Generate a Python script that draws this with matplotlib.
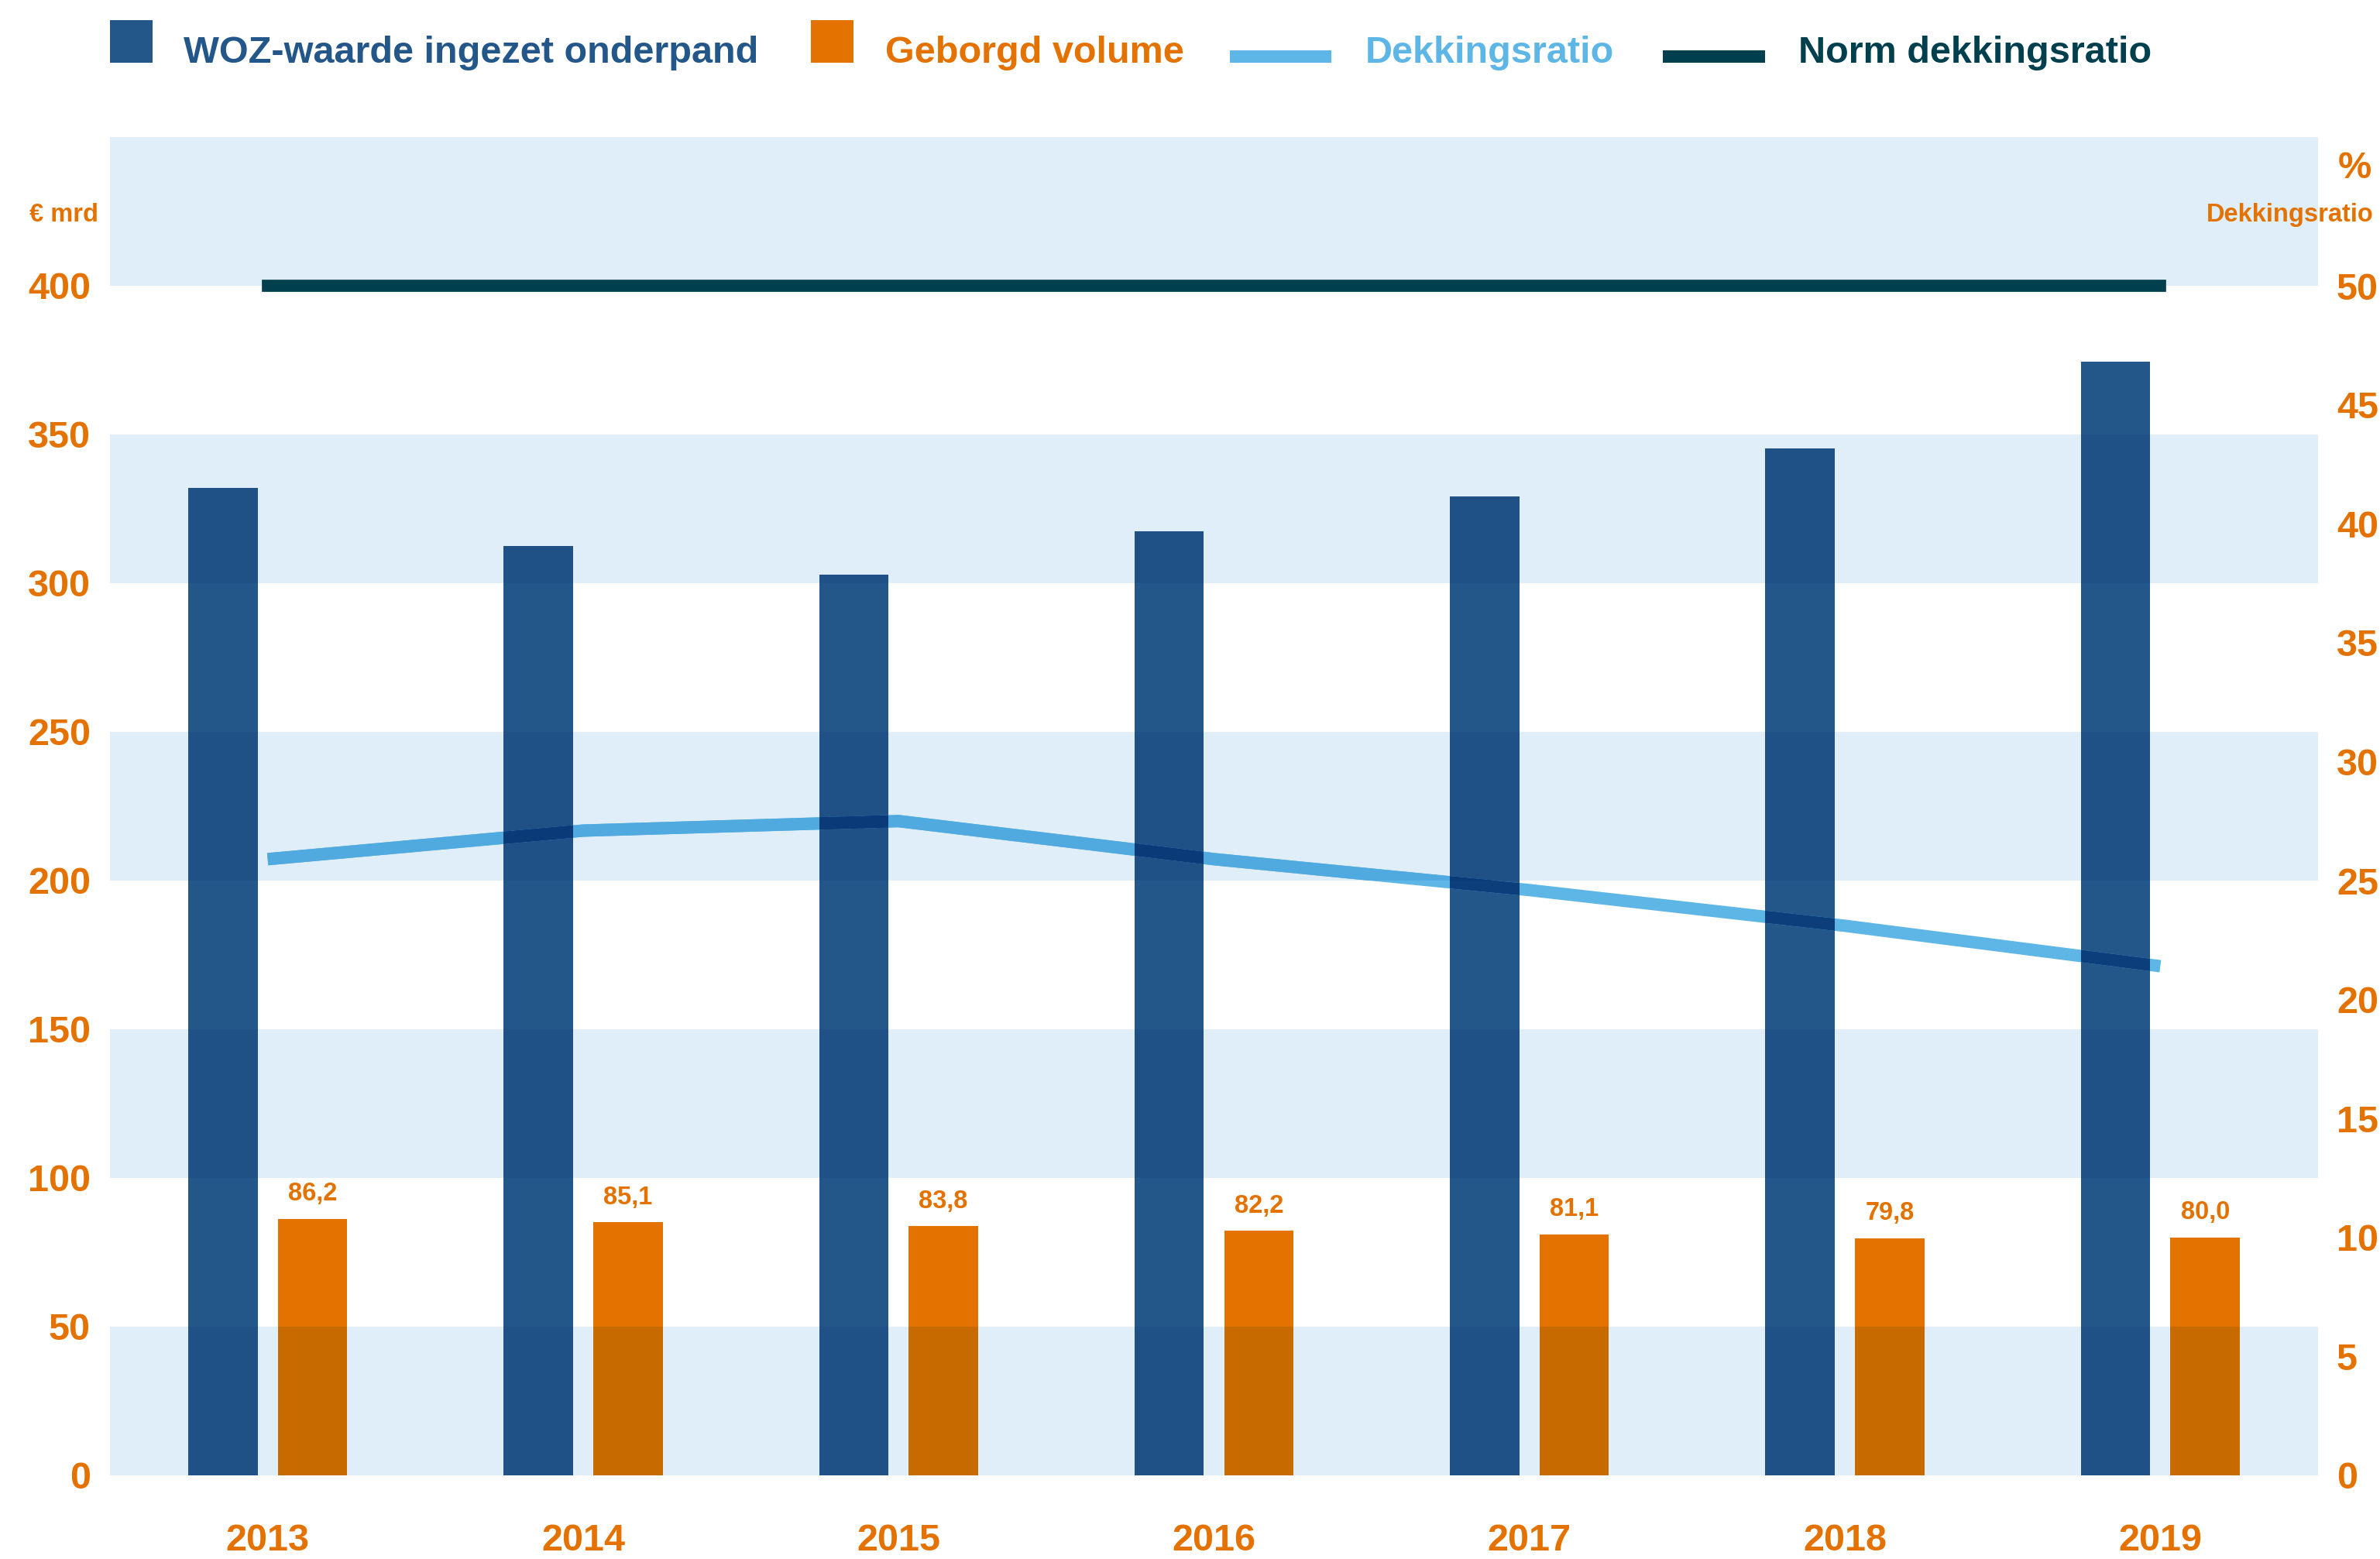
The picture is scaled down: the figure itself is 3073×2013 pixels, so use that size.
import matplotlib
matplotlib.use("Agg")
import matplotlib.pyplot as plt
from matplotlib.colors import to_rgb
from matplotlib.patches import Rectangle
import numpy as np

plt.rcParams["font.family"] = ["Liberation Sans", "DejaVu Sans"]
plt.rcParams["font.weight"] = "bold"

# ---- data -------------------------------------------------------------
years = ["2013", "2014", "2015", "2016", "2017", "2018", "2019"]
woz_value = [332.0, 312.5, 302.9, 317.4, 329.2, 345.3, 374.5]      # € mrd
guaranteed_volume = [86.2, 85.1, 83.8, 82.2, 81.1, 79.8, 80.0]      # € mrd
coverage_ratio = [25.9, 27.1, 27.5, 25.9, 24.6, 23.1, 21.4]         # %
coverage_norm = [50, 50, 50, 50, 50, 50, 50]                        # %

left_ticks = list(range(0, 401, 50))
right_ticks = list(range(0, 51, 5))

# ---- style ------------------------------------------------------------
BLUE = "#23578A"
ORANGE = "#E37200"
LINE = "#5DB6E5"
NORM = "#003F4E"
BAND = "#DFEEF8"
bands = [(0, 50), (100, 150), (200, 250), (300, 350), (400, 450)]


def multiply(*colors):
    out = np.ones(3)
    for c in colors:
        out *= np.array(to_rgb(c))
    return tuple(out)


W, H = 3073, 2013
fig = plt.figure(figsize=(W / 100, H / 100), dpi=100)
ax = fig.add_axes([142 / W, 1 - 1905 / H, (2993 - 142) / W, (1905 - 177) / H])
ax2 = ax.twinx()

ax.set_xlim(-0.5, 6.5)
ax.set_ylim(0, 450)
ax2.set_ylim(0, 450 / 8)
for a in (ax, ax2):
    for s in a.spines.values():
        s.set_visible(False)

x = np.arange(len(years))
off, bw = 0.142, 0.22

# alternating horizontal bands
band_patches = [ax.axhspan(lo, hi, color=BAND, lw=0, zorder=0) for lo, hi in bands]

# bars
woz_bars = ax.bar(x - off, woz_value, bw, color=BLUE, lw=0, zorder=1)
vol_bars = ax.bar(x + off, guaranteed_volume, bw, color=ORANGE, lw=0, zorder=1)

# bands tint the bars where they overlap (multiply look)
for band in band_patches:
    for pos, vals, col in ((x - off, woz_value, BLUE), (x + off, guaranteed_volume, ORANGE)):
        shaded = ax.bar(pos, vals, bw, color=multiply(col, BAND), lw=0, zorder=1.5)
        for p in shaded:
            p.set_clip_path(band)

# coverage ratio line, tinted where it crosses bands and bars
line_kw = dict(lw=11.5, solid_capstyle="butt", solid_joinstyle="miter", zorder=2)
ax2.plot(x, coverage_ratio, color=LINE, **line_kw)
for band in band_patches:
    ln, = ax2.plot(x, coverage_ratio, color=multiply(LINE, BAND), **line_kw)
    ln.set_clip_path(band)
for bar in woz_bars:
    ln, = ax2.plot(x, coverage_ratio, color=multiply(LINE, BLUE), **line_kw)
    ln.set_clip_path(bar)
    for lo, hi in bands:
        top = min(bar.get_height(), hi)
        if top > lo:
            clip = Rectangle((bar.get_x(), lo), bar.get_width(), top - lo,
                             transform=ax.transData)
            ln, = ax2.plot(x, coverage_ratio, color=multiply(LINE, BLUE, BAND), **line_kw)
            ln.set_clip_path(clip)

# norm line
ax2.plot(x, coverage_norm, color=NORM, lw=11.3, solid_capstyle="projecting", zorder=3)

# value labels above guaranteed volume bars
for xi, v in zip(x, guaranteed_volume):
    ax.annotate(f"{v:.1f}".replace(".", ","), (xi + off, v), xytext=(0, 17),
                textcoords="offset points", ha="center", va="baseline",
                fontsize=23.5, color=ORANGE, zorder=4)

# ticks
ax.set_yticks(left_ticks)
ax2.set_yticks(right_ticks)
ax.set_xticks(x, years)
ax.tick_params(axis="y", length=0, pad=18, labelsize=35, labelcolor=ORANGE)
ax2.tick_params(axis="y", length=0, pad=17.3, labelsize=35, labelcolor=ORANGE)
ax.tick_params(axis="x", length=0, pad=44.6, labelsize=35, labelcolor=ORANGE)

# axis unit captions
fig.text(127 / W, 1 - 286 / H, "€ mrd", ha="right", va="baseline", fontsize=23.5, color=ORANGE)
fig.text(3062 / W, 1 - 230 / H, "%", ha="right", va="baseline", fontsize=35, color=ORANGE)
fig.text(3065 / W, 1 - 286 / H, "Dekkingsratio", ha="right", va="baseline", fontsize=23.5, color=ORANGE)

# legend row
legend_items = [
    ((142, 26, 55, 55), BLUE, 237, "WOZ-waarde ingezet onderpand", BLUE),
    ((1047, 26, 55, 55), ORANGE, 1143, "Geborgd volume", ORANGE),
    ((1588, 65, 131, 16), LINE, 1763, "Dekkingsratio", LINE),
    ((2147, 65, 132, 16), NORM, 2322, "Norm dekkingsratio", NORM),
]
for (px, py, pw, ph), fc, tx, label, tc in legend_items:
    fig.add_artist(Rectangle((px / W, 1 - (py + ph) / H), pw / W, ph / H,
                             transform=fig.transFigure, facecolor=fc, lw=0))
    fig.text(tx / W, 1 - 81 / H, label, ha="left", va="baseline", fontsize=35, color=tc)

fig.savefig("out.png", dpi=100)
